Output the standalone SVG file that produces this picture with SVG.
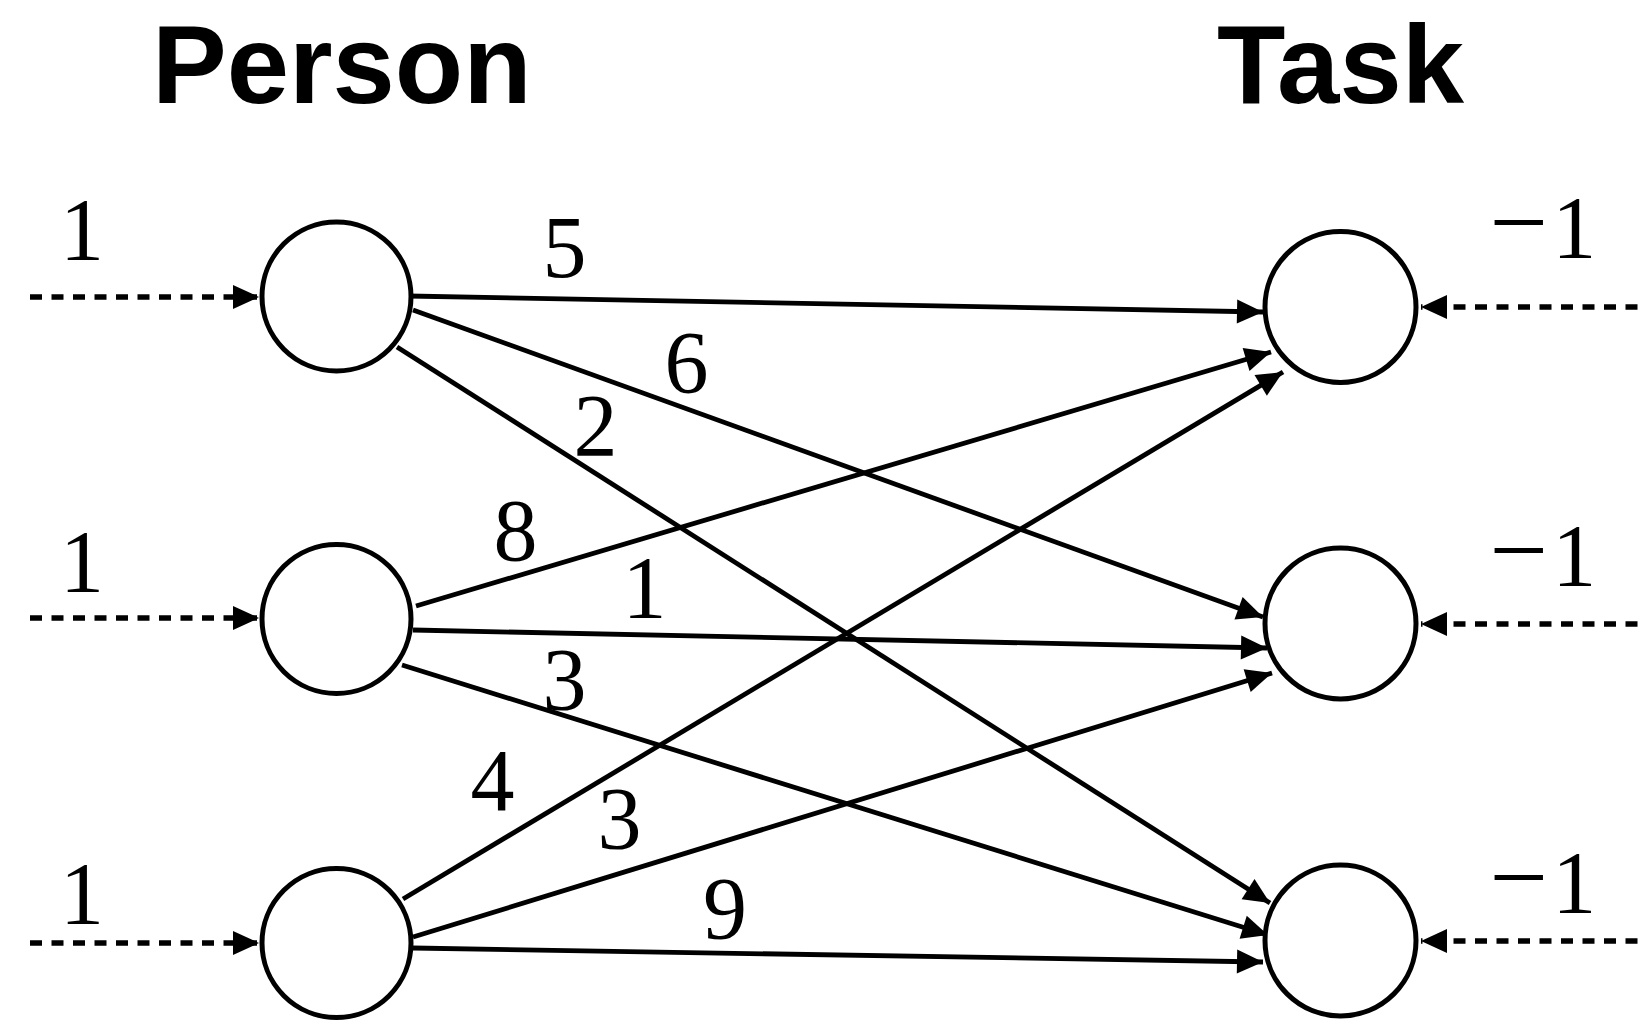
<svg xmlns="http://www.w3.org/2000/svg" width="1646" height="1022" viewBox="0 0 1646 1022">
<style>
.node{fill:#fff;stroke:#000;stroke-width:5}
.edge{fill:none;stroke:#000;stroke-width:4.8;marker-end:url(#arr)}
.flow{fill:none;stroke:#000;stroke-width:5.5;stroke-dasharray:12 9.5;marker-end:url(#arr)}
.title{font-family:"Liberation Sans",Arial,sans-serif;font-weight:bold;font-size:112px;fill:#000}
.num{font-family:"Liberation Serif","Times New Roman",serif;font-size:88px;fill:#000;text-anchor:middle}
.neg{font-family:"Liberation Serif","Times New Roman",serif;font-size:88px;fill:#000}
</style>
<defs>
<marker id="arr" markerUnits="userSpaceOnUse" markerWidth="26" markerHeight="24" refX="26" refY="12" orient="auto" overflow="visible">
<path d="M0,0 L26,12 L0,24 Z" fill="#000"/>
</marker>
</defs>
<rect width="1646" height="1022" fill="#fff"/>
<text class="title" x="152" y="103">Person</text>
<text class="title" x="1340.5" y="103" text-anchor="middle">Task</text>
<g id="connectors">
<path class="flow" d="M30,297 L259,297"/>
<path class="flow" d="M30,618 L259,618"/>
<path class="flow" d="M30,943 L259,943"/>
<path class="flow" style="stroke-dashoffset:13" d="M1646,307 L1421,307"/>
<path class="flow" style="stroke-dashoffset:13" d="M1646,624 L1421,624"/>
<path class="flow" style="stroke-dashoffset:13" d="M1646,941 L1421,941"/>
<path class="edge" d="M408,296 L1263,312"/>
<path class="edge" d="M413,310 L1263,617"/>
<path class="edge" d="M397,347 L1270,903"/>
<path class="edge" d="M416,606 L1271,352"/>
<path class="edge" d="M413,630 L1267,648"/>
<path class="edge" d="M402,665 L1268,935"/>
<path class="edge" d="M403,899 L1283,372"/>
<path class="edge" d="M413,937 L1272,673"/>
<path class="edge" d="M413,948 L1263,962"/>
</g>
<g id="person1"><circle class="node" cx="336.5" cy="296.5" r="74.5"/></g>
<g id="person2"><circle class="node" cx="336.5" cy="619" r="74.5"/></g>
<g id="person3"><circle class="node" cx="336.5" cy="943" r="74.5"/></g>
<g id="task1"><circle class="node" cx="1340.5" cy="307" r="75.5"/></g>
<g id="task2"><circle class="node" cx="1340.5" cy="623.5" r="75.5"/></g>
<g id="task3"><circle class="node" cx="1340.5" cy="940.5" r="75.5"/></g>
<g id="labels">
<text class="num" x="82" y="259">1</text>
<text class="num" x="82" y="591">1</text>
<text class="num" x="82" y="923">1</text>
<text class="neg" x="1489.5" y="257"><tspan font-size="104">−</tspan><tspan dx="4">1</tspan></text>
<text class="neg" x="1489.5" y="585"><tspan font-size="104">−</tspan><tspan dx="4">1</tspan></text>
<text class="neg" x="1489.5" y="912"><tspan font-size="104">−</tspan><tspan dx="4">1</tspan></text>
<text class="num" x="564.5" y="277">5</text>
<text class="num" x="686.5" y="392">6</text>
<text class="num" x="595.5" y="455">2</text>
<text class="num" x="515.5" y="560">8</text>
<text class="num" x="644.5" y="617">1</text>
<text class="num" x="564.5" y="709">3</text>
<text class="num" x="492.5" y="810">4</text>
<text class="num" x="619.5" y="848">3</text>
<text class="num" x="725" y="938">9</text>
</g>
</svg>
